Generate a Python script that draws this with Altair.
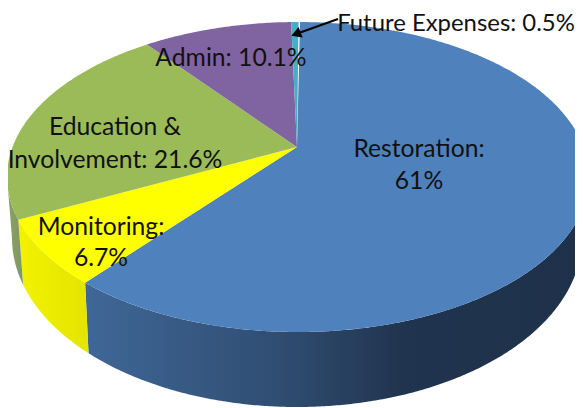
import math
import altair as alt

categories = ["Restoration", "Monitoring", "Education & Involvement", "Admin", "Future Expenses"]
shares = [61.0, 6.7, 21.6, 10.1, 0.5]
top_colors = ["#4f81bd", "#ffff00", "#9bbb59", "#8064a2", "#4bacc6"]
side_stops = [
    [(0, "#3f6797"), (0.4, "#2f4c70"), (0.63, "#21344f"), (1, "#1e3149")],
    [(0, "#e4e400"), (1, "#f2f200")],
    [(0, "#7f9668"), (1, "#8aa35c")],
]
label_text = ["Restoration:", "61%", "Monitoring:", "6.7%", "Education &", "Involvement: 21.6%",
              "Admin: 10.1%", "Future Expenses: 0.5%"]
label_x = [419, 419, 101, 101, 115, 115, 231, 456]
label_y = [150, 182, 228, 259, 128, 161, 59, 24]
label_size = [24.7, 24.7, 24.7, 24.7, 24.7, 24.7, 24.7, 23.9]

PAGE = 8
CX, CY, A, B = 298, 177, 291, 155
BCX, BCY, BA, BB = 297, 238, 285, 169
APEX = (297, 147)
START = 0.4


def warp(theta):
    # foreshortening of the tilted pie
    return theta + START - 11 * math.sin(math.radians(theta))


def top_pt(t):
    r = math.radians(t)
    return [CX + A * math.sin(r), CY - B * math.cos(r)]


def bot_pt(t):
    r = math.radians(t)
    return [BCX + BA * math.sin(r), BCY - BB * math.cos(r)]


def arange(t0, t1):
    n = max(2, int(abs(t1 - t0)) * 2)
    return [t0 + (t1 - t0) * i / n for i in range(n + 1)]


def feature(ring, name):
    ring = ring + [ring[0]]
    return {"type": "Feature", "properties": {"name": name},
            "geometry": {"type": "Polygon", "coordinates": [ring]}}


proj = alt.Projection(type="identity", scale=1, translate=[-PAGE, -PAGE])


def shape(feat, fill):
    return alt.Chart(
        alt.InlineData(values={"type": "FeatureCollection", "features": [feat]},
                       format=alt.DataFormat(property="features"))
    ).mark_geoshape(fill=fill, stroke=None, strokeWidth=0).project(**proj.to_dict())


bounds = []
c = 0.0
for s in shares:
    bounds.append((c / 100 * 360, (c + s) / 100 * 360))
    c += s

walls, tops = [], []
for i, (name, (a0, a1)) in enumerate(zip(categories, bounds)):
    t0, t1 = warp(a0), warp(a1)
    ts = arange(t0, t1)
    tops.append(shape(feature([list(APEX)] + [top_pt(t) for t in ts], name), top_colors[i]))
    w0, w1 = max(t0, 90), min(t1, 270)
    if i < len(side_stops) and w1 > w0:
        wt = arange(w0, w1)
        ring = [top_pt(t) for t in wt] + [bot_pt(t) for t in reversed(wt)]
        grad = alt.Gradient(gradient="linear", x1=1, x2=0, y1=0, y2=0,
                            stops=[alt.GradientStop(offset=o, color=col) for o, col in side_stops[i]]) \
            if i != 0 else \
            alt.Gradient(gradient="linear", x1=0, x2=1, y1=0, y2=0,
                         stops=[alt.GradientStop(offset=o, color=col) for o, col in side_stops[i]])
        walls.append(shape(feature(ring, name), grad))

labels = alt.Chart(alt.Data(values=[{"t": t, "x": x - PAGE, "y": y - PAGE, "s": s}
                                    for t, x, y, s in zip(label_text, label_x, label_y, label_size)])).mark_text(
    font="Lato", color="#111111", align="center", baseline="middle"
).encode(
    text="t:N",
    x=alt.X("x:Q", scale=None),
    y=alt.Y("y:Q", scale=None),
    size=alt.Size("s:Q", scale=None, legend=None),
)

arrow_tail = [338, 19]
arrow_tip = [296, 34]
arrow_line = alt.Chart(alt.Data(values=[{"a": 1}])).mark_rule(color="#000000", strokeWidth=2).encode(
    x=alt.value(arrow_tail[0] - PAGE), y=alt.value(arrow_tail[1] - PAGE),
    x2=alt.value(arrow_tip[0] - PAGE), y2=alt.value(arrow_tip[1] - PAGE),
)
arrow_head = alt.Chart(alt.Data(values=[{"a": 1}])).mark_point(
    shape="triangle-up", filled=True, color="#000000", size=130, angle=249, opacity=1
).encode(x=alt.value(arrow_tip[0] - PAGE), y=alt.value(arrow_tip[1] - PAGE))

chart = alt.layer(*walls, *tops, labels, arrow_line, arrow_head).properties(
    width=567, height=400, padding=0, autosize=alt.AutoSizeParams(type="none")
).configure_view(stroke=None)

chart.save("out.html", embed_options={"renderer": "svg", "actions": False})
